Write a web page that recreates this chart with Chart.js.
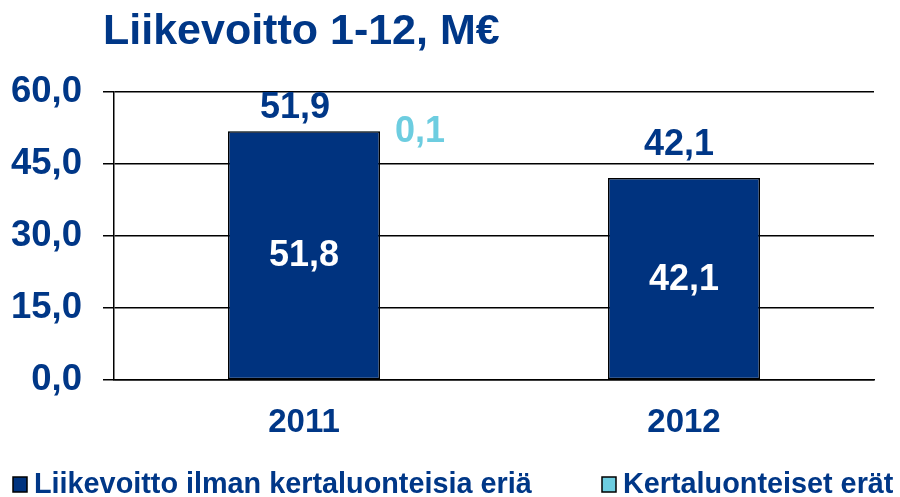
<!DOCTYPE html>
<html>
<head>
<meta charset="utf-8">
<script src="https://cdn.jsdelivr.net/npm/chart.js@4/dist/chart.umd.min.js"></script>
<style>
  html, body { margin: 0; padding: 0; background: #fff; }
  #wrap { width: 900px; height: 497px; position: relative; }
</style>
</head>
<body>
<div id="wrap"><canvas id="c" width="900" height="497"></canvas></div>
<script>
const titleText = 'Liikevoitto 1-12, M€';
const categories = ['2011', '2012'];
const seriesNames = ['Liikevoitto ilman kertaluonteisia eriä', 'Kertaluonteiset erät'];
const baseValues = [51.8, 42.1];
const oneOffValues = [0.1, 0];
const yTicks = [0, 15, 30, 45, 60];

const FONT = '"Liberation Sans", Arial, sans-serif';
const NAVY = '#00337F';
const TEXT = '#003787';
const CYAN = '#6DCDE0';

function fmt(v) { return v.toFixed(1).replace('.', ','); }

const labelsPlugin = {
  id: 'customLabels',
  afterDatasetsDraw(chart, args, opts) {
    const ctx = chart.ctx;
    const m0 = chart.getDatasetMeta(0);
    const m1 = chart.getDatasetMeta(1);
    ctx.save();
    ctx.font = 'bold 36px ' + FONT;
    categories.forEach((c, i) => {
      const b0 = m0.data[i];
      const b1 = m1.data[i];
      ctx.fillStyle = '#fff';
      ctx.textAlign = 'center';
      ctx.textBaseline = 'middle';
      ctx.fillText(fmt(baseValues[i]), b0.x, (b0.y + b0.base) / 2 + 1);
      const total = baseValues[i] + oneOffValues[i];
      const off = opts.totalOffsets[i];
      const topY = Math.min(b0.y, b1.y);
      ctx.fillStyle = TEXT;
      ctx.textBaseline = 'alphabetic';
      ctx.fillText(fmt(total), b0.x + off.dx, topY + off.dy);
      if (oneOffValues[i] !== 0) {
        ctx.fillStyle = CYAN;
        ctx.textAlign = 'left';
        ctx.fillText(fmt(oneOffValues[i]), b1.x + b1.width / 2 + opts.oneOffDx, b1.y + opts.oneOffDy);
      }
    });
    ctx.restore();
  },
  afterDraw(chart, args, opts) {
    const ctx = chart.ctx;
    ctx.save();
    ctx.font = 'bold 43px ' + FONT;
    ctx.fillStyle = TEXT;
    ctx.textAlign = 'left';
    ctx.textBaseline = 'alphabetic';
    ctx.fillText(titleText, 103, 44);
    ctx.font = 'bold 28.8px ' + FONT;
    chart.data.datasets.forEach((ds, i) => {
      const x = opts.legendX[i];
      ctx.fillStyle = ds.backgroundColor;
      ctx.fillRect(x, 477, 14, 15);
      ctx.strokeStyle = '#000';
      ctx.lineWidth = 1.5;
      ctx.strokeRect(x, 477, 14, 15);
      ctx.fillStyle = TEXT;
      ctx.fillText(ds.label, x + 21, 493);
    });
    ctx.restore();
  }
};

new Chart(document.getElementById('c'), {
  type: 'bar',
  data: {
    labels: categories,
    datasets: [
      { label: seriesNames[0], data: baseValues, backgroundColor: NAVY, borderColor: '#000', borderWidth: 1.5, borderSkipped: false },
      { label: seriesNames[1], data: oneOffValues, backgroundColor: CYAN, borderColor: '#000', borderWidth: 0, borderSkipped: false }
    ]
  },
  options: {
    responsive: false,
    animation: false,
    devicePixelRatio: 1,
    layout: { padding: { top: 92, right: 26, left: 0, bottom: 0 } },
    datasets: { bar: { categoryPercentage: 1, barPercentage: 0.4 } },
    plugins: {
      legend: { display: false },
      title: { display: false },
      tooltip: { enabled: false },
      customLabels: {
        totalOffsets: [{ dx: -9, dy: -13 }, { dx: -5, dy: -23 }],
        oneOffDx: 15,
        oneOffDy: 11,
        legendX: [13, 602]
      }
    },
    scales: {
      x: {
        stacked: true,
        grid: { display: false, drawTicks: false },
        border: { display: true, color: '#000', width: 1.5 },
        ticks: { color: TEXT, font: { family: FONT, size: 33, weight: 'bold' }, padding: 23 },
        afterFit(scale) { scale.height = 117; }
      },
      y: {
        stacked: true,
        min: 0, max: 60,
        afterBuildTicks(scale) { scale.ticks = yTicks.map(v => ({ value: v })); },
        grid: { color: '#000', lineWidth: 1.5, tickLength: 11, drawTicks: true },
        border: { display: true, color: '#000', width: 1.5 },
        ticks: { color: TEXT, font: { family: FONT, size: 36.5, weight: 'bold' }, padding: 21, callback: v => fmt(v) },
        afterFit(scale) { scale.width = 114; }
      }
    }
  },
  plugins: [labelsPlugin]
});
</script>
</body>
</html>
